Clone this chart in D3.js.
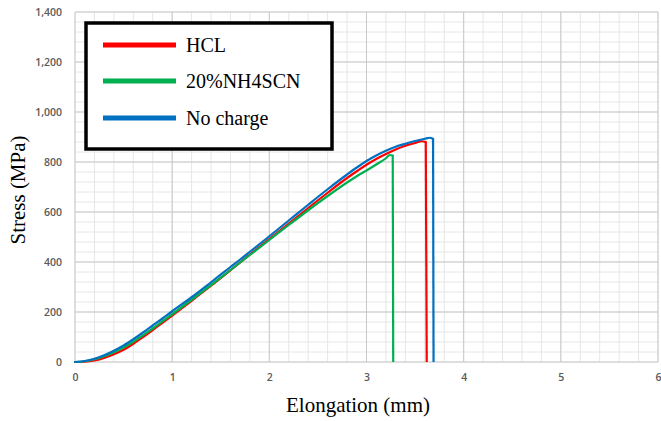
<!DOCTYPE html>
<html>
<head>
<meta charset="utf-8">
<script src="https://cdn.jsdelivr.net/npm/d3@7"></script>
<style>
  html, body { margin: 0; padding: 0; background: #fff; }
  svg { display: block; }
</style>
</head>
<body>
<svg id="chart" width="661" height="421"></svg>
<script>
// Tensile test curves: elongation (mm) vs stress (MPa)
const seriesNames = ["HCL", "20%NH4SCN", "No charge"];
const seriesColors = ["#ff0000", "#00b050", "#0070c0"];

const hclElong   = [0, 0.1, 0.2, 0.3, 0.4, 0.5, 0.6, 0.7, 0.8, 0.9, 1.0, 1.2, 1.4, 1.6, 1.8, 2.0, 2.2, 2.4, 2.6, 2.8, 2.9, 3.0, 3.1, 3.2, 3.3, 3.4, 3.5, 3.57, 3.61, 3.62];
const hclStress  = [0, 1, 6, 16, 31, 49, 73, 100, 128, 157, 186, 245, 305, 367, 430, 492, 554, 616, 677, 736, 763, 789, 812, 832, 850, 865, 876, 883, 880, 0];

const nh4Elong   = [0, 0.1, 0.2, 0.3, 0.4, 0.5, 0.6, 0.8, 1.0, 1.2, 1.4, 1.6, 1.8, 2.0, 2.2, 2.4, 2.6, 2.8, 2.9, 3.0, 3.1, 3.2, 3.24, 3.27, 3.275];
const nh4Stress  = [0, 3, 11, 23, 39, 58, 81, 134, 191, 249, 308, 368, 428, 488, 548, 607, 664, 718, 743, 766, 790, 815, 828, 826, 0];

const noneElong  = [0, 0.1, 0.2, 0.3, 0.4, 0.5, 0.6, 0.7, 0.8, 0.9, 1.0, 1.2, 1.4, 1.6, 1.7, 1.8, 2.0, 2.2, 2.4, 2.6, 2.8, 2.9, 3.0, 3.1, 3.2, 3.3, 3.4, 3.5, 3.6, 3.65, 3.685, 3.69];
const noneStress = [0, 4, 13, 27, 45, 66, 91, 118, 146, 174, 203, 259, 319, 380, 410, 441, 503, 566, 629, 691, 750, 778, 804, 826, 845, 861, 873, 884, 893, 897, 893, 0];

const xTicks = [0, 1, 2, 3, 4, 5, 6];
const yTicks = [0, 200, 400, 600, 800, 1000, 1200, 1400];

const svg = d3.select("#chart");
const margin = { left: 75, right: 3, top: 12, bottom: 59 };
const W = 661, H = 421;

const x = d3.scaleLinear().domain([0, 6]).range([margin.left, W - margin.right]);
const y = d3.scaleLinear().domain([0, 1400]).range([H - margin.bottom, margin.top]);

// Minor grid (0.2 mm, 40 MPa)
const minorX = d3.range(0, 6.0001, 0.2).map(v => +v.toFixed(1));
const minorY = d3.range(0, 1400.01, 40);
const grid = svg.append("g");
grid.selectAll("line.mx").data(minorX).join("line")
  .attr("x1", d => x(d)).attr("x2", d => x(d))
  .attr("y1", y(0)).attr("y2", y(1400))
  .attr("stroke", "#e6e6e6").attr("stroke-width", 1);
grid.selectAll("line.my").data(minorY).join("line")
  .attr("y1", d => y(d)).attr("y2", d => y(d))
  .attr("x1", x(0)).attr("x2", x(6))
  .attr("stroke", "#e6e6e6").attr("stroke-width", 1);

// Major grid
grid.selectAll("line.Mx").data(xTicks).join("line")
  .attr("x1", d => x(d)).attr("x2", d => x(d))
  .attr("y1", y(0)).attr("y2", y(1400))
  .attr("stroke", "#c9c9c9").attr("stroke-width", 1);
grid.selectAll("line.My").data(yTicks).join("line")
  .attr("y1", d => y(d)).attr("y2", d => y(d))
  .attr("x1", x(0)).attr("x2", x(6))
  .attr("stroke", "#c9c9c9").attr("stroke-width", 1);

// Axes (labels only)
const fmt = d3.format(",");
const yAxis = svg.append("g").attr("transform", `translate(${x(0)},0)`)
  .call(d3.axisLeft(y).tickValues(yTicks).tickFormat(fmt).tickSize(0).tickPadding(13));
const xAxis = svg.append("g").attr("transform", `translate(0,${y(0)})`)
  .call(d3.axisBottom(x).tickValues(xTicks).tickFormat(d3.format("d")).tickSize(0).tickPadding(12));
[xAxis, yAxis].forEach(a => {
  a.select(".domain").remove();
  a.selectAll("text")
    .attr("fill", "#595959")
    .style("font-family", "'Open Sans', 'Liberation Sans', sans-serif")
    .style("font-size", "10.5px")
    .style("font-weight", "600");
});

// Curves
const data = [
  { name: seriesNames[0], color: seriesColors[0], xs: hclElong, ys: hclStress },
  { name: seriesNames[1], color: seriesColors[1], xs: nh4Elong, ys: nh4Stress },
  { name: seriesNames[2], color: seriesColors[2], xs: noneElong, ys: noneStress }
];
const line = d3.line().x(d => x(d[0])).y(d => y(d[1])).curve(d3.curveMonotoneX);
const lineSeg = d3.line().x(d => x(d[0])).y(d => y(d[1]));
const curves = svg.append("g");
data.forEach(s => {
  const pts = s.xs.map((v, i) => [v, s.ys[i]]);
  const rise = pts.slice(0, -1);
  const drop = pts.slice(-2);
  curves.append("path").attr("d", line(rise))
    .attr("fill", "none").attr("stroke", s.color)
    .attr("stroke-width", 2.2).attr("stroke-linejoin", "round").attr("stroke-linecap", "round");
  curves.append("path").attr("d", lineSeg(drop))
    .attr("fill", "none").attr("stroke", s.color)
    .attr("stroke-width", 2.2).attr("stroke-linecap", "butt");
});

// Legend
const lg = svg.append("g");
lg.append("rect").attr("x", 86).attr("y", 23).attr("width", 246).attr("height", 126)
  .attr("fill", "#fff").attr("stroke", "#000").attr("stroke-width", 3.5);
const rowY = [45, 81, 118];
data.forEach((s, i) => {
  lg.append("line").attr("x1", 103).attr("x2", 176).attr("y1", rowY[i]).attr("y2", rowY[i])
    .attr("stroke", s.color).attr("stroke-width", 5);
  lg.append("text").attr("x", 186).attr("y", rowY[i] + 7)
    .text(s.name)
    .attr("fill", "#000")
    .style("font-family", "'Liberation Serif', 'Times New Roman', serif")
    .style("font-size", "20px");
});

// Axis titles
svg.append("text").attr("x", 358).attr("y", 412).attr("text-anchor", "middle")
  .text("Elongation (mm)")
  .style("font-family", "'Liberation Serif', 'Times New Roman', serif").style("font-size", "21px");
svg.append("text").attr("transform", "translate(25,190) rotate(-90)").attr("text-anchor", "middle")
  .text("Stress (MPa)")
  .style("font-family", "'Liberation Serif', 'Times New Roman', serif").style("font-size", "21px");
</script>
</body>
</html>
